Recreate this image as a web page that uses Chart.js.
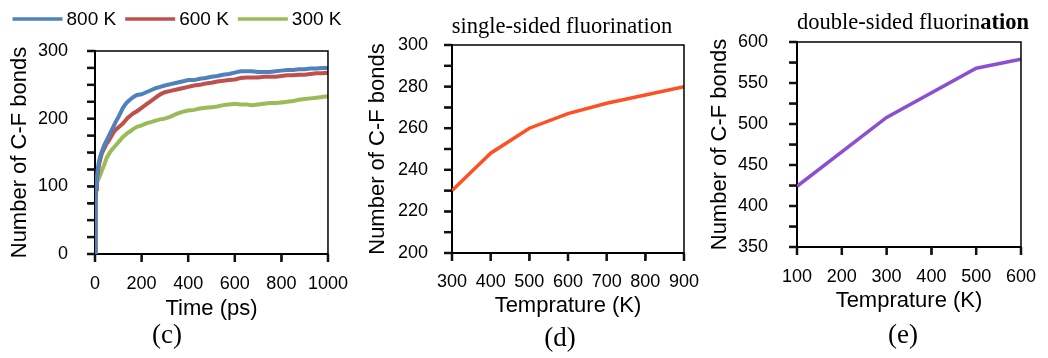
<!DOCTYPE html>
<html>
<head>
<meta charset="utf-8">
<title>C-F bonds</title>
<script src="https://cdn.jsdelivr.net/npm/chart.js@4.4.1/dist/chart.umd.min.js"></script>
<style>
    html, body { margin: 0; padding: 0; background: #fff; width: 1048px; height: 358px; overflow: hidden; }
    .panel { position: absolute; top: 0; }
</style>
</head>
<body>
<canvas id="chartC" class="panel" style="left:0px" width="360" height="358"></canvas>
<canvas id="chartD" class="panel" style="left:350px" width="360" height="358"></canvas>
<canvas id="chartE" class="panel" style="left:700px" width="348" height="358"></canvas>
<script>
// Panel (c): C-F bonds vs simulation time
const timePs = [0, 1, 2, 4, 6, 8, 10, 15, 20, 25, 30,
    40, 50, 60, 70, 80, 90, 100, 110, 120, 130, 140, 150, 165, 180,
    200, 220, 240, 260, 280, 300,
    325, 350, 375, 400, 425, 450, 475, 500, 525, 550, 575, 600, 625, 650,
    675, 700, 725, 750, 775, 800, 825, 850, 875, 900, 925, 950, 975, 1000];
const bonds800K = [0, 45, 70, 90, 102, 112, 120, 133, 141, 147, 152,
    161, 168, 175, 182, 189, 196, 202, 209, 216, 221, 225, 228, 232, 235,
    236, 239, 242, 245, 247, 249,
    251, 253, 255, 257, 257, 259, 260, 262, 263, 265, 266, 268, 270, 270,
    270, 269, 269, 269, 270, 271, 272, 272, 273, 273, 274, 274, 275, 275];
const bonds600K = [0, 40, 62, 82, 96, 106, 114, 127, 136, 143, 149,
    156, 163, 168, 174, 180, 184, 187, 190, 193, 197, 201, 204, 208, 211,
    216, 221, 226, 231, 236, 239,
    241, 243, 245, 247, 249, 250, 252, 253, 255, 256, 257, 258, 260, 261,
    261, 261, 262, 262, 262, 263, 264, 264, 265, 265, 266, 267, 267, 268];
const bonds300K = [0, 35, 60, 85, 97, 103, 107, 111, 115, 119, 124,
    132, 142, 148, 153, 157, 161, 165, 169, 173, 176, 179, 181, 185, 188,
    190, 193, 195, 197, 199, 200,
    203, 207, 210, 212, 213, 215, 216, 217, 218, 220, 221, 222, 221, 221,
    220, 221, 222, 223, 223, 224, 225, 226, 228, 229, 230, 231, 232, 233];
const seriesNamesC = ['800 K', '600 K', '300 K'];

// Panel (d): single-sided fluorination
const tempD = [300, 400, 500, 600, 700, 800, 900];
const bondsD = [230, 248, 260, 267, 272, 276, 280];

// Panel (e): double-sided fluorination
const tempE = [100, 300, 500, 600];
const bondsE = [424, 508, 568, 579];

// Shared look
const SANS = "'Liberation Sans', Arial, sans-serif";
const SERIF = "'Liberation Serif', 'Times New Roman', serif";
const TICK_LEN = 8;
Chart.defaults.font.family = SANS;
Chart.defaults.color = '#000';

function toPoints(xs, ys) {
    return xs.map((x, i) => ({ x: x, y: ys[i] }));
}

// Draws tick marks, the closed frame, the legend (if any) and the extra texts of a panel
const panelDecor = {
    id: 'panelDecor',
    afterDraw(chart, args, opts) {
        const { ctx, chartArea: a } = chart;
        ctx.save();

        // outward tick marks at every scale tick
        ctx.strokeStyle = '#111';
        ctx.lineWidth = 2.5;
        ctx.lineCap = 'butt';
        Object.values(chart.scales).forEach(sc => {
            sc.ticks.forEach(t => {
                const p = sc.getPixelForValue(t.value);
                ctx.beginPath();
                if (sc.isHorizontal()) {
                    ctx.moveTo(p, a.bottom);
                    ctx.lineTo(p, a.bottom + TICK_LEN);
                } else {
                    ctx.moveTo(a.left - TICK_LEN, p);
                    ctx.lineTo(a.left, p);
                }
                ctx.stroke();
            });
        });

        // top and right sides of the box
        ctx.strokeStyle = '#000';
        ctx.lineWidth = 1.5;
        ctx.beginPath();
        ctx.moveTo(a.left, a.top);
        ctx.lineTo(a.right, a.top);
        ctx.lineTo(a.right, a.bottom);
        ctx.stroke();

        ctx.fillStyle = '#000';
        ctx.textBaseline = 'middle';

        // top title, possibly mixed regular / bold parts
        if (opts.title) {
            const parts = opts.title.parts;
            let total = 0;
            parts.forEach(p => {
                ctx.font = (p.bold ? 'bold ' : '') + '22.5px ' + SERIF;
                p.w = ctx.measureText(p.text).width;
                total += p.w;
            });
            let x = opts.title.x - total / 2;
            ctx.textAlign = 'left';
            parts.forEach(p => {
                ctx.font = (p.bold ? 'bold ' : '') + '22.5px ' + SERIF;
                ctx.fillText(p.text, x, opts.title.y);
                x += p.w;
            });
        }

        // panel tag like (c)
        if (opts.tag) {
            ctx.font = '27px ' + SERIF;
            ctx.textAlign = 'center';
            ctx.fillText(opts.tag.text, opts.tag.x, opts.tag.y);
        }

        // legend built from the datasets
        if (opts.legend) {
            ctx.font = '19px ' + SANS;
            ctx.textAlign = 'left';
            const items = chart.data.datasets.map(ds => ({
                label: ds.label, color: ds.borderColor,
                w: opts.legend.lineLen + opts.legend.gapText + ctx.measureText(ds.label).width
            }));
            const total = items.reduce((s, it) => s + it.w, 0) + opts.legend.gapItem * (items.length - 1);
            let x = opts.legend.cx - total / 2;
            items.forEach(it => {
                ctx.strokeStyle = it.color;
                ctx.lineWidth = 3.5;
                ctx.beginPath();
                ctx.moveTo(x, opts.legend.y);
                ctx.lineTo(x + opts.legend.lineLen, opts.legend.y);
                ctx.stroke();
                ctx.fillText(it.label, x + opts.legend.lineLen + opts.legend.gapText, opts.legend.y + 1);
                x += it.w + opts.legend.gapItem;
            });
        }
        ctx.restore();
    }
};

function axisX(min, max, step, titleText, tickPad, height) {
    return {
        type: 'linear', min: min, max: max,
        border: { color: '#000', width: 2 },
        grid: { drawOnChartArea: false, drawTicks: true, tickLength: 7, color: '#000', lineWidth: 1.5 },
        ticks: { stepSize: step, autoSkip: false, maxRotation: 0, padding: tickPad, font: { size: 18 },
            callback: v => String(v) },
        title: { display: true, text: titleText, font: { size: 22 } },
        afterFit(scale) { scale.height = height; }
    };
}

function axisY(min, max, step, labelEvery, tickPad, width) {
    return {
        min: min, max: max,
        border: { color: '#000', width: 2 },
        grid: { drawOnChartArea: false, drawTicks: true, tickLength: 7, color: '#000', lineWidth: 1.5 },
        ticks: {
            stepSize: step, autoSkip: false, padding: tickPad, font: { size: 18 },
            callback: v => (v % labelEvery === 0 ? String(v) : '')
        },
        title: { display: true, text: 'Number of C-F bonds', font: { size: 22 } },
        afterFit(scale) { scale.width = width; }
    };
}

function makePanel(canvasId, datasets, scales, padding, decor) {
    return new Chart(document.getElementById(canvasId), {
        type: 'line',
        data: { datasets: datasets },
        options: {
            responsive: false,
            animation: false,
            layout: { padding: padding },
            elements: { point: { radius: 0 }, line: { tension: 0 } },
            plugins: { legend: { display: false }, tooltip: { enabled: false }, panelDecor: decor },
            scales: scales
        },
        plugins: [panelDecor]
    });
}

// (c)
const colorsC = ['#4F81BD', '#C0504D', '#9BBB59'];
const seriesC = [bonds800K, bonds600K, bonds300K];
makePanel('chartC',
    seriesC.map((vals, i) => ({
        label: seriesNamesC[i],
        data: toPoints(timePs, vals),
        borderColor: colorsC[i],
        backgroundColor: colorsC[i],
        borderWidth: 4
    })),
    { x: axisX(0, 1000, 200, 'Time (ps)', 12, 72), y: axisY(0, 300, 25, 100, 20, 92) },
    { left: 3, top: 51, right: 27, bottom: 32 },
    { legend: { cx: 177, y: 19, lineLen: 50, gapText: 4, gapItem: 9 }, tag: { text: '(c)', x: 167, y: 336 } }
);

// (d)
makePanel('chartD',
    [{ label: 'single-sided', data: toPoints(tempD, bondsD), borderColor: '#FF5024', borderWidth: 3.5 }],
    { x: axisX(300, 900, 100, 'Temprature (K)', 11, 70), y: axisY(200, 300, 10, 20, 17, 91) },
    { left: 11, top: 45, right: 24, bottom: 35 },
    { title: { x: 212, y: 27, parts: [{ text: 'single-sided fluorination' }] }, tag: { text: '(d)', x: 210, y: 339 } }
);

// (e)
makePanel('chartE',
    [{ label: 'double-sided', data: toPoints(tempE, bondsE), borderColor: '#8C4FD0', borderWidth: 3.5 }],
    { x: axisX(100, 600, 100, 'Temprature (K)', 12, 71), y: axisY(350, 600, 25, 50, 22, 94) },
    { left: 3, top: 42, right: 21, bottom: 40 },
    { title: { x: 213, y: 23, parts: [{ text: 'double-sided fluorin' }, { text: 'ation', bold: true }] }, tag: { text: '(e)', x: 203, y: 336 } }
);
</script>
</body>
</html>
